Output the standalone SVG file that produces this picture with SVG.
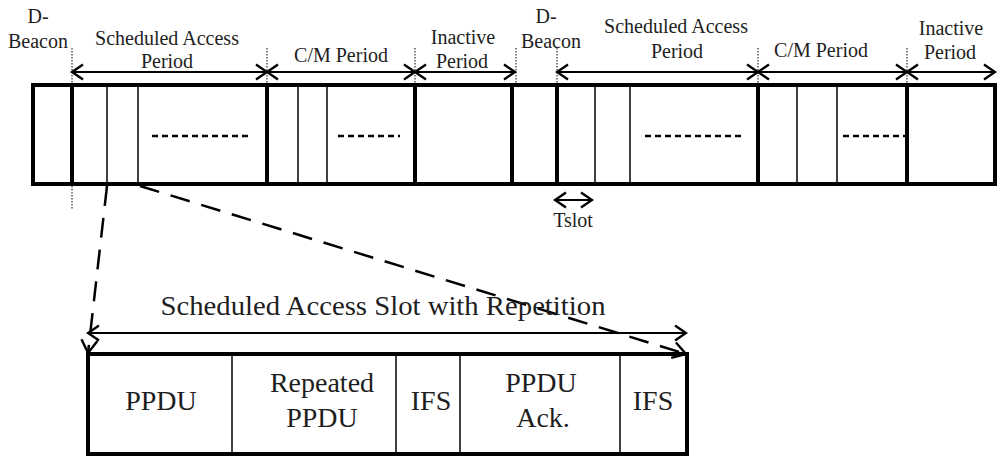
<svg xmlns="http://www.w3.org/2000/svg" width="997" height="457" viewBox="0 0 997 457">
<style>
  text { font-family: "Liberation Serif", "Tinos", "DejaVu Serif", "Times New Roman", serif; fill: #1e1e1e; text-anchor: middle; }
  .lbl { font-size: 20px; }
  .big { font-size: 28px; }
  .thick { stroke: #000; stroke-width: 4; fill: none; }
  .thin { stroke: #000; stroke-width: 1.5; fill: none; }
  .dots { stroke: #000; stroke-width: 1; stroke-dasharray: 1.5 1.5; fill: none; }
  .inner { stroke: #000; stroke-width: 2.5; stroke-dasharray: 6 4; fill: none; }
  .dim { stroke: #000; stroke-width: 2; fill: none; marker-start: url(#ah); marker-end: url(#ah); }
  .zoom { stroke: #000; stroke-width: 2.5; stroke-dasharray: 20 12; fill: none; marker-end: url(#ah2); }
</style>
<defs>
  <marker id="ah" markerUnits="userSpaceOnUse" markerWidth="14" markerHeight="18" viewBox="0 0 14 18" refX="12" refY="9" orient="auto-start-reverse">
    <path d="M1,1.5 L12,9 L1,16.5" fill="none" stroke="#000" stroke-width="2.4"/>
  </marker>
  <marker id="ah2" markerUnits="userSpaceOnUse" markerWidth="16" markerHeight="20" viewBox="0 0 16 20" refX="14" refY="10" orient="auto">
    <path d="M1,2 L14,10 L1,18" fill="none" stroke="#000" stroke-width="2.4"/>
  </marker>
</defs>

<g id="superframe">
  <rect x="33" y="85" width="962" height="99" class="thick"/>
  <g id="thick-separators">
    <line x1="72" y1="85" x2="72" y2="184" class="thick"/>
    <line x1="267" y1="85" x2="267" y2="184" class="thick"/>
    <line x1="415" y1="85" x2="415" y2="184" class="thick"/>
    <line x1="512" y1="85" x2="512" y2="184" class="thick"/>
    <line x1="557" y1="85" x2="557" y2="184" class="thick"/>
    <line x1="758" y1="85" x2="758" y2="184" class="thick"/>
    <line x1="907" y1="85" x2="907" y2="184" class="thick"/>
  </g>
  <g id="slots">
    <line x1="107" y1="85" x2="107" y2="184" class="thin"/>
    <line x1="138" y1="85" x2="138" y2="184" class="thin"/>
    <line x1="298" y1="85" x2="298" y2="184" class="thin"/>
    <line x1="327" y1="85" x2="327" y2="184" class="thin"/>
    <line x1="595" y1="85" x2="595" y2="184" class="thin"/>
    <line x1="630" y1="85" x2="630" y2="184" class="thin"/>
    <line x1="797" y1="85" x2="797" y2="184" class="thin"/>
    <line x1="837" y1="85" x2="837" y2="184" class="thin"/>
  </g>
  <g id="ellipses">
    <line x1="152" y1="136" x2="248" y2="136" class="inner"/>
    <line x1="338" y1="136" x2="400" y2="136" class="inner"/>
    <line x1="645" y1="136" x2="742" y2="136" class="inner"/>
    <line x1="843" y1="136" x2="905" y2="136" class="inner"/>
  </g>
  <g id="boundaries">
    <line x1="72" y1="48" x2="72" y2="210" class="dots"/>
    <line x1="267" y1="48" x2="267" y2="85" class="dots"/>
    <line x1="415" y1="48" x2="415" y2="85" class="dots"/>
    <line x1="516" y1="48" x2="516" y2="85" class="dots"/>
    <line x1="557" y1="48" x2="557" y2="85" class="dots"/>
    <line x1="758" y1="48" x2="758" y2="85" class="dots"/>
    <line x1="907" y1="48" x2="907" y2="85" class="dots"/>
  </g>
</g>

<g id="connectors">
  <line x1="72" y1="72" x2="267" y2="72" class="dim"/>
  <line x1="267" y1="72" x2="415" y2="72" class="dim"/>
  <line x1="415" y1="72" x2="515" y2="72" class="dim"/>
  <line x1="557" y1="72" x2="758" y2="72" class="dim"/>
  <line x1="758" y1="72" x2="907" y2="72" class="dim"/>
  <line x1="907" y1="72" x2="995" y2="72" class="dim"/>
  <line x1="555" y1="200" x2="592" y2="200" class="dim"/>
  <line x1="88" y1="333" x2="686" y2="333" class="dim"/>
  <line x1="107" y1="186" x2="88" y2="353" class="zoom"/>
  <line x1="140" y1="186" x2="686" y2="354" class="zoom"/>
</g>

<g id="labels">
  <text class="lbl" x="38" y="23">D-</text>
  <text class="lbl" x="38" y="48">Beacon</text>
  <text class="lbl" x="167" y="45">Scheduled Access</text>
  <text class="lbl" x="167" y="68">Period</text>
  <text class="lbl" x="341" y="62">C/M Period</text>
  <text class="lbl" x="463" y="44">Inactive</text>
  <text class="lbl" x="462" y="68">Period</text>
  <text class="lbl" x="546" y="23">D-</text>
  <text class="lbl" x="551" y="48">Beacon</text>
  <text class="lbl" x="676" y="33">Scheduled Access</text>
  <text class="lbl" x="677" y="58">Period</text>
  <text class="lbl" x="821" y="57">C/M Period</text>
  <text class="lbl" x="951" y="35">Inactive</text>
  <text class="lbl" x="950" y="59">Period</text>
  <text class="lbl" x="573" y="227">Tslot</text>
  <text class="big" x="383" y="315" textLength="445" lengthAdjust="spacingAndGlyphs">Scheduled Access Slot with Repetition</text>
</g>

<g id="slot-detail">
  <rect x="88" y="354" width="599" height="100" class="thick"/>
  <line x1="232" y1="354" x2="232" y2="454" class="thin"/>
  <line x1="396" y1="354" x2="396" y2="454" class="thin"/>
  <line x1="460" y1="354" x2="460" y2="454" class="thin"/>
  <line x1="620" y1="354" x2="620" y2="454" class="thin"/>
  <g id="f-ppdu"><text class="big" x="161" y="410">PPDU</text></g>
  <g id="f-rep"><text class="big" x="322" y="392">Repeated</text><text class="big" x="322" y="427">PPDU</text></g>
  <g id="f-ifs1"><text class="big" x="431" y="410">IFS</text></g>
  <g id="f-ack"><text class="big" x="541" y="392">PPDU</text><text class="big" x="543" y="427">Ack.</text></g>
  <g id="f-ifs2"><text class="big" x="653" y="410">IFS</text></g>
</g>
</svg>
